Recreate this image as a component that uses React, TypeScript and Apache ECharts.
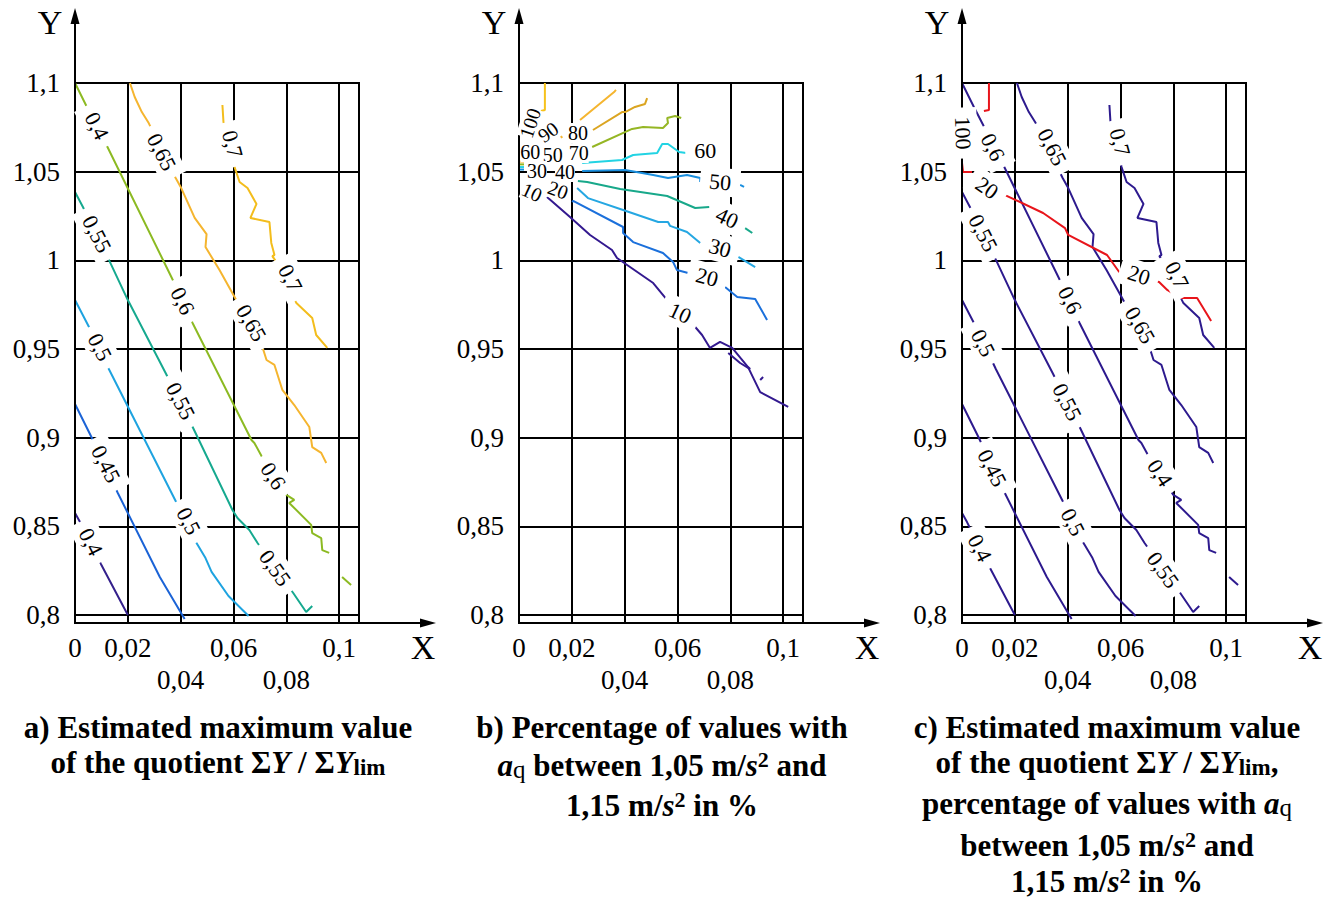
import React, { useEffect, useRef } from 'react';
import * as echarts from 'echarts';

// ---------- data (x, y) in axis units ----------
// quotient contours (panel a, reused in panel c)
const q040 = [[[0, 0.8575], [0.0019, 0.8524], [0.0098, 0.8288], [0.02, 0.8]]];
const q045 = [[[0, 0.919], [0.0064, 0.8998], [0.0162, 0.8688], [0.0321, 0.8214], [0.0415, 0.7977]]];
const q050 = [[[0, 0.9776], [0.0053, 0.9624], [0.0128, 0.9387], [0.0381, 0.8643], [0.046, 0.8406], [0.0494, 0.8321], [0.0517, 0.8243], [0.0581, 0.8107], [0.0657, 0.7994]]];
const q055 = [[[0, 1.0385], [0.003, 1.0301], [0.0132, 0.9991], [0.02, 0.9776], [0.0343, 0.9365], [0.0449, 0.9049], [0.0596, 0.8592], [0.0615, 0.8547], [0.066, 0.8479], [0.0691, 0.8406], [0.0826, 0.8124], [0.0875, 0.8017], [0.0898, 0.8051]]];
const q060 = [
  [[0, 1.1], [0.0045, 1.0865], [0.0121, 1.0645], [0.0374, 0.9878], [0.0445, 0.9647], [0.0668, 0.8987], [0.0679, 0.897], [0.0706, 0.8897], [0.08, 0.8677], [0.083, 0.8649], [0.0811, 0.8632], [0.0894, 0.8508], [0.0898, 0.8462], [0.0932, 0.8434], [0.0936, 0.8366], [0.0962, 0.835]],
  [[0.1011, 0.8214], [0.1045, 0.8169]],
];
const q065 = [[[0.0208, 1.1], [0.0226, 1.0921], [0.0253, 1.0836], [0.0279, 1.0774], [0.0381, 1.0464], [0.04, 1.0414], [0.0453, 1.0239], [0.0498, 1.0148], [0.0494, 1.0075], [0.0547, 0.9945], [0.0604, 0.9793], [0.0713, 0.9494], [0.0725, 0.9438], [0.0755, 0.941], [0.0785, 0.9269], [0.083, 0.9184], [0.0887, 0.906], [0.0898, 0.8947], [0.0932, 0.8914], [0.0951, 0.8857]]];
const q070 = [[[0.0558, 1.0876], [0.0562, 1.078], [0.0604, 1.0526], [0.0623, 1.0442], [0.0653, 1.0408], [0.0687, 1.0318], [0.0664, 1.0239], [0.0736, 1.0216], [0.0743, 1.0098], [0.0755, 1.003], [0.0747, 1.0024], [0.0762, 0.9991], [0.0838, 0.9759], [0.0898, 0.9675], [0.0913, 0.9579], [0.0955, 0.9506]]];

// percentage contours (panel b)
const p100 = [[[0.0098, 1.1], [0.0098, 1.0848], [0.0083, 1.0842]]];
const p090 = [[[0.0367, 1.0961], [0.036, 1.0949], [0.0231, 1.0791]], [[0.0159, 1.0701], [0.0163, 1.069]], [[0, 1.0557], [0.0019, 1.0557]]];
const p080 = [[[0.0485, 1.0915], [0.0477, 1.0882], [0.0439, 1.0865], [0.0402, 1.0836], [0.039, 1.0836], [0.028, 1.0735]]];
const p070 = [[[0.0614, 1.0803], [0.0591, 1.0814], [0.0561, 1.0803], [0.0564, 1.0774], [0.0545, 1.0746], [0.047, 1.0752], [0.0428, 1.0741], [0.0277, 1.0639]], [[0, 1.0541], [0.0019, 1.0541]]];
const p060 = [[[0.0239, 1.0549], [0.039, 1.0566], [0.0432, 1.0594], [0.0523, 1.0605], [0.0542, 1.0656], [0.0564, 1.0656], [0.0606, 1.0611], [0.0633, 1.0605]], [[0, 1.0526], [0.0019, 1.0526]]];
const p050 = [[[0.0239, 1.0504], [0.0402, 1.0509], [0.0508, 1.0481], [0.0564, 1.0464], [0.0636, 1.0481], [0.0686, 1.0464], [0.0686, 1.0442]], [[0.0837, 1.0425], [0.0852, 1.0414]], [[0, 1.0512], [0.0019, 1.0512]]];
const p040 = [[[0.0223, 1.0447], [0.0258, 1.0442], [0.0383, 1.0402], [0.0561, 1.0363], [0.0667, 1.0295], [0.072, 1.0301]], [[0.0856, 1.0182], [0.0883, 1.0154]]];
const p030 = [[[0.022, 1.0408], [0.0261, 1.0351], [0.0394, 1.0284], [0.0527, 1.0216], [0.0564, 1.0216], [0.0572, 1.0194], [0.0636, 1.016], [0.0686, 1.0098]], [[0.083, 1.0019], [0.0894, 0.9962]]];
const p020 = [[[0.0201, 1.0329], [0.0205, 1.0335], [0.0394, 1.0188], [0.0394, 1.0154], [0.0432, 1.0103], [0.0545, 1.0041], [0.0583, 0.9991], [0.0598, 0.9945], [0.064, 0.9929]], [[0.078, 0.985], [0.0826, 0.9793], [0.0894, 0.9782], [0.0939, 0.9664]]];
const p010 = [
  [[0.0106, 1.0357], [0.0193, 1.0244], [0.0269, 1.0143], [0.0352, 1.0058], [0.0371, 1.0013], [0.0508, 0.9872], [0.0561, 0.9776], [0.0667, 0.9624], [0.0693, 0.9579], [0.0723, 0.9506], [0.0761, 0.954], [0.0807, 0.9506], [0.0867, 0.9398], [0.0913, 0.9257], [0.1019, 0.9173]],
  [[0.0792, 0.9477], [0.0837, 0.9421], [0.0875, 0.9387], [0.0867, 0.9398]],
  [[0.0913, 0.9325], [0.0924, 0.9342]],
];

// percentage contours shown in panel c
const r100 = [[[0.0102, 1.1], [0.0102, 1.0848], [0.0083, 1.0842]]];
const r020 = [
  [[0, 1.0549], [0.0004, 1.0498], [0.0038, 1.0498]],
  [[0.0163, 1.0368], [0.0307, 1.0267], [0.039, 1.0182], [0.0402, 1.0143], [0.0549, 1.003], [0.0595, 0.9934], [0.0746, 0.9878], [0.0777, 0.9833], [0.0826, 0.9788], [0.089, 0.9788], [0.0943, 0.9658]],
];

// contour labels: [text, x, y]
const aLabels = [
  ['0,4', 0.0083, 1.0758], ['0,65', 0.0328, 1.0611], ['0,7', 0.0596, 1.0656], ['0,55', 0.0083, 1.0148],
  ['0,6', 0.0408, 0.9771], ['0,7', 0.0815, 0.99], ['0,5', 0.0094, 0.9511], ['0,65', 0.0668, 0.9647],
  ['0,55', 0.04, 0.9207], ['0,45', 0.0117, 0.8851], ['0,6', 0.0751, 0.8784], ['0,5', 0.043, 0.853],
  ['0,4', 0.006, 0.8412], ['0,55', 0.0758, 0.8265],
];
const aLabelAngles = [-63, -63, -75, -63, -63, -63, -63, -60, -63, -63, -57, -63, -63, -55];

const bLabels = [
  ['100', 0.0042, 1.0774], ['90', 0.011, 1.0724], ['80', 0.0223, 1.0718], ['60', 0.0043, 1.0611],
  ['50', 0.0128, 1.0594], ['70', 0.0226, 1.0605], ['30', 0.0068, 1.0504], ['40', 0.0174, 1.0498],
  ['10', 0.0049, 1.0385], ['20', 0.0148, 1.0397], ['60', 0.0705, 1.0617], ['50', 0.0761, 1.0442],
  ['40', 0.0788, 1.0239], ['30', 0.0761, 1.007], ['20', 0.0712, 0.9906], ['10', 0.061, 0.9703],
];
const bLabelAngles = [72, 35, 0, 0, 0, 0, 0, 0, -25, -20, 0, -5, -25, -15, -15, -25];
const bLabelTight = [true, true, true, true, true, true, true, true, true, true, false, false, false, false, false, false];

const cLabels = [
  ['100', 0.0004, 1.0718], ['0,6', 0.0117, 1.0639], ['0,65', 0.0341, 1.0639], ['0,7', 0.0598, 1.0667],
  ['20', 0.0095, 1.0408], ['0,55', 0.008, 1.0154], ['0,6', 0.0409, 0.9776], ['20', 0.067, 0.9917],
  ['0,7', 0.0814, 0.9917], ['0,5', 0.008, 0.9534], ['0,65', 0.0674, 0.9635], ['0,55', 0.0398, 0.9201],
  ['0,45', 0.0114, 0.8829], ['0,4', 0.075, 0.8801], ['0,5', 0.042, 0.8524], ['0,4', 0.0068, 0.8378],
  ['0,55', 0.0761, 0.8254],
];
const cLabelAngles = [-88, -63, -63, -75, -35, -63, -63, -18, -63, -63, -60, -63, -63, -57, -63, -63, -55];

// axes
const X_MIN = 0;
const X_MAX = 0.1075;
const X_STEP = 0.02;
const Y_MIN = 0.8;
const Y_MAX = 1.1;
const Y_STEP = 0.05;

// ---------- layout / style ----------
const SERIF = '"Liberation Serif", "DejaVu Serif", serif';
const LEFTS = [75, 519, 962];
const TOP = 83;
const W = 284;
const H_PLOT = 532;
const H_FRAME = 540;
const AXIS_Y = TOP + H_FRAME;

const fmt = (v: number, d: number) => String(Math.round(v * Math.pow(10, d)) / Math.pow(10, d)).replace('.', ',');

function lineSeries(segs: number[][][], color: string, p: number) {
  return segs.map((seg) => ({
    type: 'line',
    xAxisIndex: p * 2,
    yAxisIndex: p * 2,
    data: seg,
    symbol: 'none',
    showSymbol: false,
    clip: false,
    silent: true,
    z: 3,
    lineStyle: { color, width: 2 },
  }));
}

function labelSeries(labels: any[], angles: number[], p: number, tight?: boolean[]) {
  return {
    type: 'scatter',
    xAxisIndex: p * 2,
    yAxisIndex: p * 2,
    symbolSize: 0,
    clip: false,
    silent: true,
    z: 20,
    itemStyle: { color: '#fff', opacity: 1 },
    label: {
      show: true,
      position: 'inside',
      formatter: '{b}',
      fontFamily: SERIF,
      fontSize: 22,
      color: '#000',
      opacity: 1,
      textBorderWidth: 0,
      textBorderColor: 'transparent',
      backgroundColor: '#fff',
      padding: [3, 9],
    },
    data: labels.map((l, i) => {
      const t = tight && tight[i];
      return {
        name: l[0],
        value: [l[1], l[2]],
        label: t ? { rotate: angles[i], padding: [0, 0], fontSize: 20, lineHeight: 20 } : { rotate: angles[i] },
      };
    }),
  };
}

const rich = {
  b: { fontFamily: SERIF, fontWeight: 'bold', fontSize: 31, lineHeight: 34, fill: '#000' },
  bi: { fontFamily: SERIF, fontWeight: 'bold', fontStyle: 'italic', fontSize: 31, lineHeight: 34, fill: '#000' },
  sub: { fontFamily: SERIF, fontWeight: 'bold', fontSize: 23, lineHeight: 12, verticalAlign: 'bottom', fill: '#000' },
  subn: { fontFamily: SERIF, fontWeight: 'normal', fontSize: 25, lineHeight: 12, verticalAlign: 'bottom', fill: '#000' },
  sup: { fontFamily: SERIF, fontWeight: 'bold', fontSize: 22, lineHeight: 22, verticalAlign: 'top', fill: '#000' },
};

const titleLines: [number, number, string][] = [
  [218, 727, '{b|a) Estimated maximum value}'],
  [218, 762, '{b|of the quotient Σ}{bi|Y}{b| / Σ}{bi|Y}{sub|lim}'],
  [662, 727, '{b|b) Percentage of values with}'],
  [662, 765, '{bi|a}{subn|q}{b| between 1,05 m/}{bi|s}{sup|2}{b| and}'],
  [662, 805, '{b|1,15 m/}{bi|s}{sup|2}{b| in %}'],
  [1107, 727, '{b|c) Estimated maximum value}'],
  [1107, 762, '{b|of the quotient Σ}{bi|Y}{b| / Σ}{bi|Y}{sub|lim}{b|,}'],
  [1107, 803, '{b|percentage of values with }{bi|a}{subn|q}'],
  [1107, 845, '{b|between 1,05 m/}{bi|s}{sup|2}{b| and}'],
  [1107, 881, '{b|1,15 m/}{bi|s}{sup|2}{b| in %}'],
];

export default function App() {
  const ref = useRef<HTMLDivElement>(null);
  useEffect(() => {
    if (!ref.current) return;
    const chart = echarts.init(ref.current, undefined, { renderer: 'svg' });

    const grid: any[] = [];
    const xAxis: any[] = [];
    const yAxis: any[] = [];
    const graphic: any[] = [];
    LEFTS.forEach((L) => {
      grid.push({ left: L, top: TOP, width: W, height: H_PLOT, show: false });
      grid.push({ left: L, top: TOP, width: W, height: H_FRAME, show: true, borderColor: '#000', borderWidth: 2, backgroundColor: 'transparent' });
      const gi = grid.length - 2;
      xAxis.push({ type: 'value', gridIndex: gi, min: X_MIN, max: X_MAX, show: false });
      yAxis.push({
        type: 'value', gridIndex: gi, min: Y_MIN, max: Y_MAX, interval: Y_STEP,
        axisLine: { show: false }, axisTick: { show: false },
        splitLine: { show: true, lineStyle: { color: '#000', width: 2 } },
        axisLabel: { margin: 15, fontFamily: SERIF, fontSize: 27, color: '#000', formatter: (v: number) => fmt(v, 2) },
      });
      xAxis.push({
        type: 'value', gridIndex: gi + 1, min: X_MIN, max: X_MAX, interval: X_STEP,
        axisLine: { show: false }, axisTick: { show: false },
        splitLine: { show: true, lineStyle: { color: '#000', width: 2 } },
        axisLabel: {
          margin: 9, fontFamily: SERIF, fontSize: 27, color: '#000', lineHeight: 32,
          showMaxLabel: false,
          formatter: (v: number, i: number) => {
            if (v > 0.1 + 1e-9) return '';
            const s = fmt(v, 3);
            return i === 2 || i === 4 ? '\n' + s : s;
          },
        },
      });
      yAxis.push({ type: 'value', gridIndex: gi + 1, min: 0, max: 1, show: false });

      graphic.push(
        { type: 'line', z: 4, silent: true, shape: { x1: L, y1: AXIS_Y, x2: L, y2: 22 }, style: { stroke: '#000', lineWidth: 2 } },
        { type: 'polygon', z: 4, silent: true, shape: { points: [[L, 8], [L - 4.5, 24], [L + 4.5, 24]] }, style: { fill: '#000' } },
        { type: 'line', z: 4, silent: true, shape: { x1: L, y1: AXIS_Y, x2: L + 348, y2: AXIS_Y }, style: { stroke: '#000', lineWidth: 2 } },
        { type: 'polygon', z: 4, silent: true, shape: { points: [[L + 361, AXIS_Y], [L + 345, AXIS_Y - 4.5], [L + 345, AXIS_Y + 4.5]] }, style: { fill: '#000' } },
        { type: 'text', z: 4, silent: true, x: L - 25, y: 22, style: { text: 'Y', fontFamily: SERIF, fontSize: 34, fill: '#000', align: 'center', verticalAlign: 'middle' } },
        { type: 'text', z: 4, silent: true, x: L + 348, y: 647, style: { text: 'X', fontFamily: SERIF, fontSize: 34, fill: '#000', align: 'center', verticalAlign: 'middle' } },
      );
    });
    titleLines.forEach(([x, y, t]) => {
      graphic.push({ type: 'text', silent: true, x, y, style: { text: t, rich, align: 'center', verticalAlign: 'middle', fontFamily: SERIF, fontSize: 31, fontWeight: 'bold', fill: '#000' } });
    });

    const series: any[] = [
      ...lineSeries(q040, '#34208c', 0),
      ...lineSeries(q045, '#1b63d6', 0),
      ...lineSeries(q050, '#1ea3e0', 0),
      ...lineSeries(q055, '#16a98f', 0),
      ...lineSeries(q060, '#8cba22', 0),
      ...lineSeries(q065, '#f5b52f', 0),
      ...lineSeries(q070, '#f3bd1c', 0),
      labelSeries(aLabels, aLabelAngles, 0),

      ...lineSeries(p100, '#f6c21c', 1),
      ...lineSeries(p090, '#f5b52f', 1),
      ...lineSeries(p080, '#dba521', 1),
      ...lineSeries(p070, '#95b624', 1),
      ...lineSeries(p060, '#22d3e3', 1),
      ...lineSeries(p050, '#1a8fdf', 1),
      ...lineSeries(p040, '#18a88a', 1),
      ...lineSeries(p030, '#25a7e2', 1),
      ...lineSeries(p020, '#1b70db', 1),
      ...lineSeries(p010, '#33198f', 1),
      labelSeries(bLabels, bLabelAngles, 1, bLabelTight),

      ...[q040, q045, q050, q055, q060, q065, q070].flatMap((q) => lineSeries(q, '#2d1a8e', 2)),
      ...lineSeries(r100, '#e8151b', 2),
      ...lineSeries(r020, '#e8151b', 2),
      labelSeries(cLabels, cLabelAngles, 2),
    ];

    chart.setOption({
      animation: false,
      backgroundColor: '#fff',
      grid,
      xAxis,
      yAxis,
      series,
      graphic,
    });
    return () => chart.dispose();
  }, []);
  return <div ref={ref} style={{ position: 'fixed', left: 0, top: 0, width: 1336, height: 899, background: '#fff' }} />;
}
